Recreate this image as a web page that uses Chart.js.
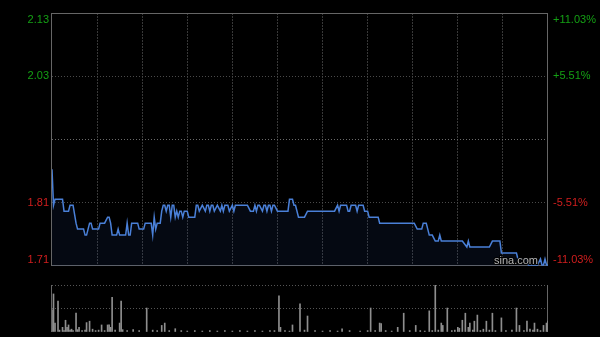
<!DOCTYPE html>
<html>
<head>
<meta charset="utf-8">
<script src="https://cdn.jsdelivr.net/npm/chart.js@4"></script>
<style>
  html, body { margin: 0; padding: 0; background: #000; }
  #wrap { position: relative; width: 600px; height: 337px; }
  #price { position: absolute; left: 0; top: 0; }
  #vol { position: absolute; left: 0; top: 272px; }
</style>
</head>
<body>
<div id="wrap">
  <canvas id="price" width="600" height="272"></canvas>
  <canvas id="vol" width="600" height="65"></canvas>
</div>
<script>
// previous close and the +/- limits shown on the axes
const prevClose = 1.92;
const pctTicks = [11.03, 5.51, 0, -5.51, -11.03];
const leftLabels = ["2.13", "2.03", "", "1.81", "1.71"];
const rightLabels = ["+11.03%", "+5.51%", "", "-5.51%", "-11.03%"];

// minutes since open (330 min session) where the price changes
const minutes = [0, 1, 2, 7, 8, 11, 12, 14, 16, 17, 21, 22, 23, 25, 26, 27, 31, 32, 35, 37,
  38, 39, 40, 43, 44, 45, 49, 50, 51, 52, 53, 57, 58, 61, 62, 66, 67, 68, 69, 70,
  72, 73, 74, 75, 76, 77, 78, 79, 80, 81, 82, 83, 84, 85, 86, 87, 88, 90, 91, 95,
  96, 97, 98, 100, 102, 103, 104, 105, 106, 107, 108, 110, 112, 113, 114, 115, 117, 118, 120, 121,
  122, 130, 132, 134, 135, 136, 137, 138, 140, 141, 142, 143, 144, 145, 146, 147, 148, 150, 157, 158,
  160, 161, 162, 164, 168, 170, 188, 190, 191, 192, 196, 197, 198, 199, 202, 203, 204, 207, 208, 210,
  211, 217, 218, 241, 243, 246, 247, 249, 251, 253, 255, 257, 258, 259, 273, 276, 277, 278, 291, 293,
  298, 299, 309, 310, 316, 317, 323, 325, 326, 327, 328, 329, 330];
const prices = [1.87, 1.81, 1.82, 1.82, 1.80, 1.80, 1.81, 1.81, 1.78, 1.77, 1.77, 1.76, 1.76, 1.78, 1.78, 1.77, 1.77, 1.78, 1.78, 1.79,
  1.79, 1.78, 1.76, 1.76, 1.77, 1.76, 1.76, 1.78, 1.76, 1.76, 1.78, 1.78, 1.77, 1.77, 1.78, 1.78, 1.76, 1.79, 1.77, 1.78,
  1.78, 1.80, 1.81, 1.81, 1.80, 1.81, 1.81, 1.79, 1.81, 1.81, 1.79, 1.80, 1.79, 1.80, 1.80, 1.79, 1.80, 1.80, 1.79, 1.79,
  1.81, 1.81, 1.80, 1.81, 1.80, 1.81, 1.81, 1.80, 1.81, 1.81, 1.80, 1.81, 1.80, 1.81, 1.80, 1.81, 1.81, 1.80, 1.81, 1.80,
  1.81, 1.81, 1.80, 1.80, 1.81, 1.80, 1.81, 1.81, 1.80, 1.81, 1.81, 1.80, 1.81, 1.81, 1.80, 1.81, 1.81, 1.80, 1.80, 1.82,
  1.82, 1.81, 1.81, 1.79, 1.79, 1.80, 1.80, 1.81, 1.80, 1.81, 1.81, 1.80, 1.80, 1.81, 1.81, 1.80, 1.81, 1.81, 1.80, 1.80,
  1.79, 1.79, 1.78, 1.78, 1.77, 1.77, 1.78, 1.78, 1.76, 1.76, 1.75, 1.75, 1.76, 1.75, 1.75, 1.74, 1.75, 1.74, 1.74, 1.75,
  1.75, 1.73, 1.73, 1.72, 1.72, 1.71, 1.71, 1.72, 1.71, 1.71, 1.72, 1.71, 1.71];

// volume bars: minute and relative size
const volMinutes = [0, 1, 2, 4, 5, 7, 8, 9, 10, 11, 12, 13, 14, 16, 17, 18, 20, 22, 23, 25,
  27, 29, 31, 33, 35, 37, 38, 39, 40, 42, 45, 46, 47, 50, 54, 58, 63, 67, 70, 73,
  75, 78, 82, 86, 90, 95, 100, 105, 110, 115, 120, 125, 130, 135, 140, 145, 148, 151, 152, 155,
  158, 160, 165, 168, 170, 175, 180, 185, 190, 193, 198, 205, 210, 212, 215, 218, 219, 222, 226, 230,
  234, 238, 242, 245, 248, 251, 253, 255, 257, 259, 260, 263, 266, 268, 270, 271, 273, 275, 277, 278,
  280, 281, 283, 285, 287, 289, 291, 293, 295, 299, 302, 306, 309, 311, 314, 316, 318, 320, 321, 323,
  325, 327, 329, 330];
const volValues = [47, 81, 19, 66, 4, 10, 3, 25, 10, 15, 4, 6, 3, 40, 5, 10, 3, 4, 20, 23,
  6, 3, 4, 15, 3, 15, 15, 10, 74, 4, 19, 66, 5, 3, 5, 3, 51, 4, 3, 14,
  19, 3, 7, 3, 2, 3, 2, 3, 2, 3, 2, 3, 2, 3, 2, 3, 3, 77, 10, 3,
  2, 15, 60, 4, 34, 3, 2, 3, 2, 7, 3, 2, 3, 51, 3, 19, 18, 3, 2, 10,
  40, 3, 14, 3, 2, 45, 3, 100, 4, 19, 14, 51, 3, 4, 10, 8, 25, 40, 10, 19,
  4, 23, 36, 3, 6, 23, 4, 40, 3, 30, 3, 4, 51, 14, 3, 23, 6, 4, 19, 6,
  3, 14, 19, 23];

const tickPrices = pctTicks.map(p => prevClose * (1 + p / 100));

const frame = {
  id: "frame",
  beforeDatasetsDraw(chart, args, opts) {
    const { ctx, chartArea: a } = chart;
    ctx.save();
    ctx.strokeStyle = "#666";
    ctx.lineWidth = 1;
    ctx.beginPath();
    if (opts.top) { ctx.moveTo(a.left - 0.5, a.top + 0.5); ctx.lineTo(a.right - 0.5, a.top + 0.5); }
    if (opts.bottom) { ctx.moveTo(a.left - 0.5, a.bottom - 0.5); ctx.lineTo(a.right - 0.5, a.bottom - 0.5); }
    ctx.moveTo(a.left - 0.5, a.top); ctx.lineTo(a.left - 0.5, a.bottom);
    ctx.moveTo(a.right - 0.5, a.top); ctx.lineTo(a.right - 0.5, a.bottom);
    ctx.stroke();
    ctx.restore();
  }
};

const axisText = {
  id: "axisText",
  afterDraw(chart) {
    const { ctx, chartArea: a, scales: { y } } = chart;
    ctx.save();
    ctx.font = "11px Arial";
    tickPrices.forEach((v, i) => {
      if (!leftLabels[i]) return;
      let py = y.getPixelForValue(v);
      let base = "middle";
      if (i === 0) { base = "top"; py = a.top + 1; }
      if (i === tickPrices.length - 1) { base = "bottom"; py = a.bottom - 1; }
      ctx.textBaseline = base;
      ctx.fillStyle = pctTicks[i] > 0 ? "#14a014" : "#d21e1e";
      ctx.textAlign = "right";
      ctx.fillText(leftLabels[i], a.left - 3, py);
      ctx.textAlign = "left";
      ctx.fillText(rightLabels[i], a.right + 5, py);
    });
    // watermark
    ctx.font = "11px Arial";
    ctx.textAlign = "right";
    ctx.textBaseline = "bottom";
    ctx.lineWidth = 2;
    ctx.strokeStyle = "#000";
    ctx.strokeText("sina.com", a.right - 10, a.bottom);
    ctx.fillStyle = "#b4b4b4";
    ctx.fillText("sina.com", a.right - 10, a.bottom);
    ctx.restore();
  }
};

const xAxis = {
  type: "linear",
  min: 0,
  max: 330,
  offset: false,
  ticks: { display: false, stepSize: 30 },
  grid: {
    drawTicks: false,
    color: c => (c.tick.value === 0 || c.tick.value === 330) ? "rgba(0,0,0,0)" : "#383838"
  },
  border: { display: false, dash: [2, 1] }
};

new Chart(document.getElementById("price"), {
  type: "line",
  data: {
    datasets: [{
      data: minutes.map((m, i) => ({ x: m, y: prices[i] })),
      borderColor: "#4a80d8",
      borderWidth: 1.5,
      backgroundColor: "rgba(40, 70, 140, 0.13)",
      fill: "start",
      pointRadius: 0,
      tension: 0
    }]
  },
  options: {
    responsive: false,
    animation: false,
    layout: { padding: { left: 52, right: 52, top: 13, bottom: 6 } },
    plugins: { legend: { display: false }, tooltip: { enabled: false }, frame: { top: true, bottom: true } },
    scales: {
      x: xAxis,
      y: {
        min: tickPrices[4],
        max: tickPrices[0],
        ticks: { display: false },
        afterBuildTicks: axis => { axis.ticks = tickPrices.slice().reverse().map(v => ({ value: v })); },
        grid: {
          drawTicks: false,
          color: c => {
            const v = c.tick.value;
            if (v === tickPrices[0] || v === tickPrices[4]) return "rgba(0,0,0,0)";
            return v === tickPrices[2] ? "#6a6a6a" : "#4a4a4a";
          }
        },
        border: { display: false, dash: [1, 2] }
      }
    }
  },
  plugins: [frame, axisText]
});

new Chart(document.getElementById("vol"), {
  type: "bar",
  data: {
    datasets: [{
      data: volMinutes.map((m, i) => ({ x: m, y: volValues[i] })),
      backgroundColor: "#8e8e8e",
      barThickness: 1
    }]
  },
  options: {
    responsive: false,
    animation: false,
    layout: { padding: { left: 52, right: 52, top: 13, bottom: 5 } },
    plugins: { legend: { display: false }, tooltip: { enabled: false }, frame: { top: false, bottom: false } },
    scales: {
      x: Object.assign({}, xAxis, { grid: { display: false, drawTicks: false } }),
      y: {
        min: 0,
        max: 100,
        ticks: { display: false },
        afterBuildTicks: axis => { axis.ticks = [0, 50, 100].map(v => ({ value: v })); },
        grid: { drawTicks: false, color: c => c.tick.value === 0 ? "rgba(0,0,0,0)" : "#555" },
        border: { display: false, dash: [1, 2] }
      }
    }
  },
  plugins: [frame]
});
</script>
</body>
</html>
